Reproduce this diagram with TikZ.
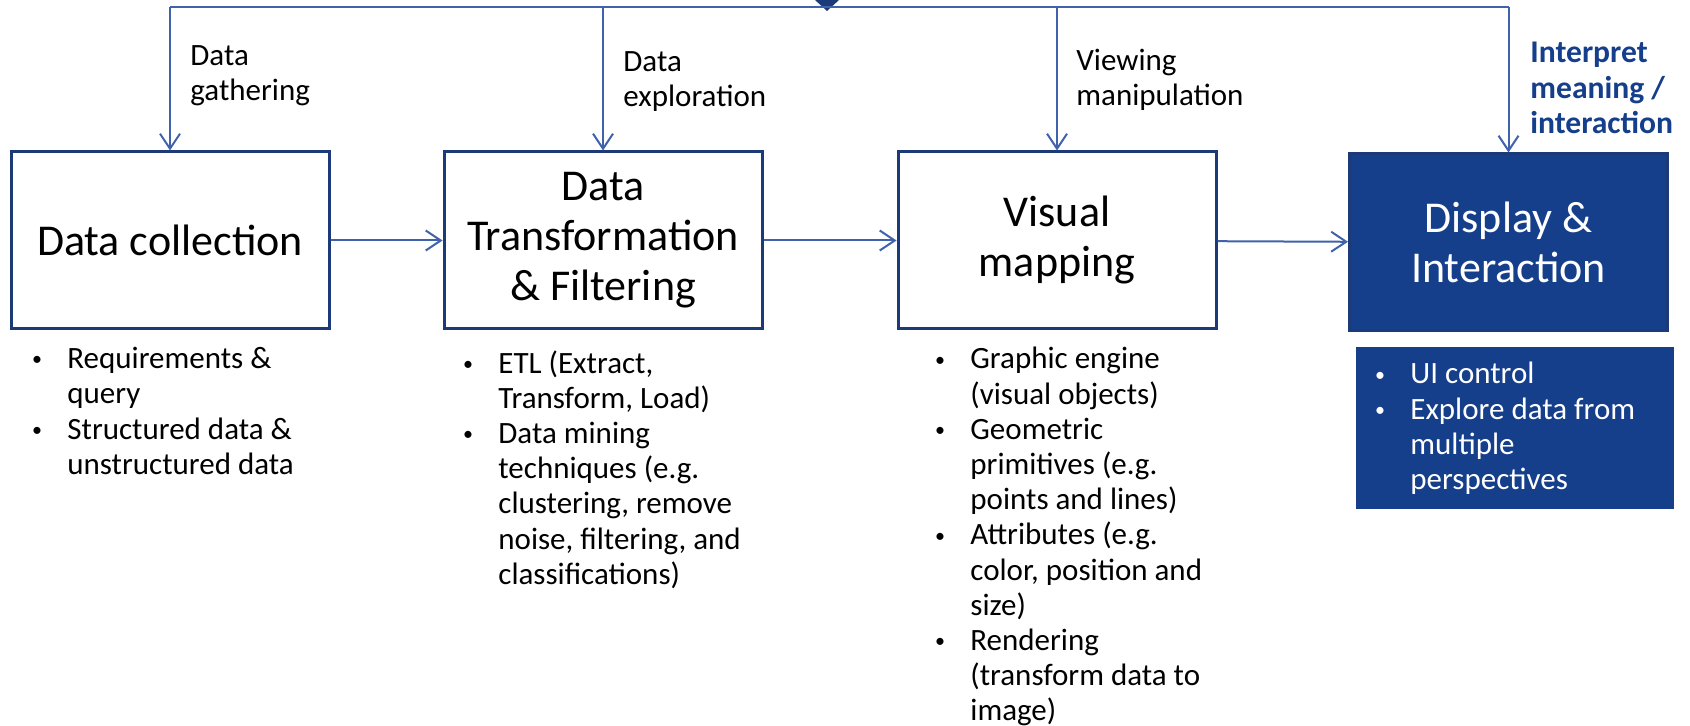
\documentclass[tikz,border=0pt]{standalone}
\usepackage{fontspec}
\setmainfont{Carlito}
\usetikzlibrary{arrows.meta}
\definecolor{boxBlue}{HTML}{1D3A78}
\definecolor{lineBlue}{HTML}{3F62AA}
\definecolor{fillBlue}{HTML}{153E8B}
\newcommand{\bul}{\makebox[19pt][l]{\hspace{1.4pt}\raisebox{1.4pt}{\fontsize{10}{10}\selectfont\textbullet}}}
\newcommand{\ind}{\hspace*{19pt}}
\begin{document}
\begin{tikzpicture}
[x=0.5pt,y=-0.5pt,
  boxDecorate/.style={shape=rectangle,draw=boxBlue,line width=1.5pt,inner sep=0pt,
    minimum width=159pt,minimum height=88.5pt,align=center,font=\fontsize{22}{25}\selectfont},
  listDecorate/.style={anchor=north west,align=left,inner sep=0pt,font=\fontsize{15.5}{17.6}\selectfont},
  arrowDecorate/.style={-{Straight Barb[length=7.5pt,width=10pt]},line width=1pt,draw=lineBlue}]
\useasboundingbox (0,0) rectangle (1690,726);
%% boxes
\foreach \nodename/\x/\y/\nodetext in {
  collect/170/240.5/{Data collection},
  transform/603/240.5/{Data\\Transformation\\\& Filtering},
  mapping/1057/240.5/{Visual\\mapping}}
{
  \node (\nodename) at (\x,\y) [boxDecorate] {\nodetext};
}
\node (display) at (1508.5,242.5) [boxDecorate,fill=fillBlue,text=white] {Display \&\\Interaction};
\node (displaybg) at (1515,428) [shape=rectangle,fill=fillBlue,inner sep=0pt,
  minimum width=159pt,minimum height=81pt] {};
%% top line and feed points
\foreach \nodename/\x in {t1/170, t2/603, t3/1057, t4/1508.5}
{
  \coordinate (\nodename) at (\x,7);
}
\fill[boxBlue] (815,0) -- (839,0) -- (827,11) -- cycle;
\draw[line width=1pt,draw=lineBlue] (t1) -- (t4);
%% labels
\node (gather) at (190,45) [listDecorate] {Data\\gathering};
\node (explore) at (623,51) [listDecorate] {Data\\exploration};
\node (view) at (1076,49) [listDecorate] {Viewing\\manipulation};
\node (interpret) at (1530,42) [listDecorate,text=fillBlue,font=\fontsize{15.8}{17.6}\selectfont\bfseries]
  {Interpret\\meaning /\\interaction};
%% bullet lists
\node (list1) at (29,347) [listDecorate]
  {\bul Requirements \&\\\ind query\\\bul Structured data \&\\\ind unstructured data};
\node (list2) at (460,350) [listDecorate]
  {\bul ETL (Extract,\\\ind Transform, Load)\\\bul Data mining\\\ind techniques (e.g.\\
   \ind clustering, remove\\\ind noise, filtering, and\\\ind classifications)};
\node (list3) at (932,347) [listDecorate]
  {\bul Graphic engine\\\ind (visual objects)\\\bul Geometric\\\ind primitives (e.g.\\
   \ind points and lines)\\\bul Attributes (e.g.\\\ind color, position and\\\ind size)\\
   \bul Rendering\\\ind (transform data to\\\ind image)};
\node (list4) at (1372,362) [listDecorate,text=white]
  {\bul UI control\\\bul Explore data from\\\ind multiple\\\ind perspectives};
%% arrows
\path
\foreach \startnode/\endnode in {
  collect/transform, transform/mapping, mapping/display,
  t1/collect, t2/transform, t3/mapping, t4/display}
{
  (\startnode) edge[arrowDecorate] (\endnode)
};
\end{tikzpicture}
\end{document}
